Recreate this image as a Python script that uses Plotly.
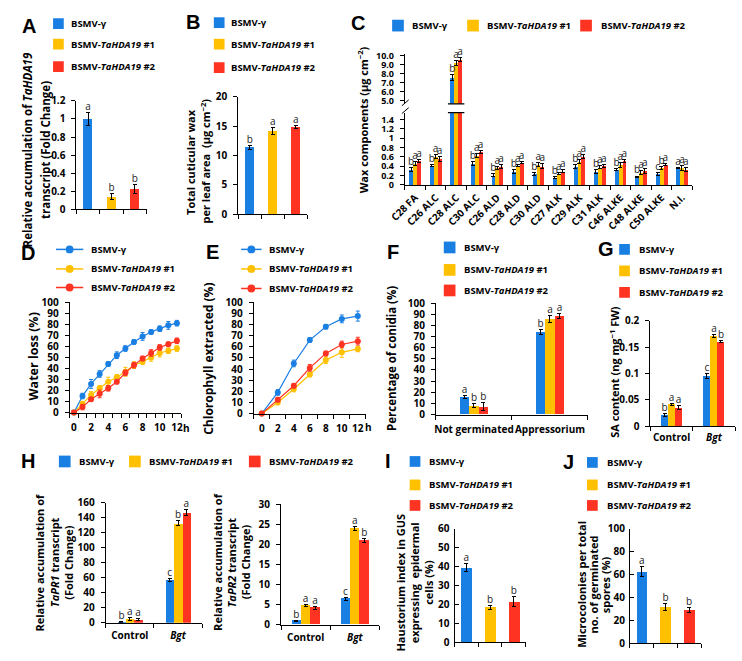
import plotly.graph_objects as go

W, H = 742, 661
HFONT = "Open Sans, sans-serif"
VFONT = "Open Sans, sans-serif"
LFONT = "Liberation Sans, Arial, sans-serif"
COLORS = ['#1a7fe3', '#ffc000', '#ff3322']
SERIES = ['BSMV-γ', 'BSMV-<i>TaHDA19</i> #1', 'BSMV-<i>TaHDA19</i> #2']

# ---------------- data ----------------
A_vals = [1.0, 0.14, 0.23]
A_err = [0.07, 0.03, 0.05]
A_sig = ['a', 'b', 'b']

B_vals = [11.4, 14.2, 14.9]
B_err = [0.3, 0.6, 0.25]
B_sig = ['b', 'a', 'a']

C_cats = ['C28 FA', 'C26 ALC', 'C28 ALC', 'C30 ALC', 'C26 ALD', 'C28 ALD', 'C30 ALD',
          'C27 ALK', 'C29 ALK', 'C31 ALK', 'C46 ALKE', 'C48 ALKE', 'C50 ALKE', 'N.I.']
C_blue = [0.33, 0.41, 7.6, 0.46, 0.21, 0.29, 0.24, 0.15, 0.39, 0.28, 0.33, 0.17, 0.24, 0.36]
C_yellow = [0.46, 0.61, 9.2, 0.63, 0.36, 0.41, 0.43, 0.24, 0.50, 0.38, 0.43, 0.26, 0.36, 0.36]
C_red = [0.51, 0.56, 9.6, 0.71, 0.39, 0.48, 0.40, 0.29, 0.61, 0.41, 0.51, 0.30, 0.44, 0.33]
C_blue_err = [0.04, 0.02, 0.3, 0.05, 0.03, 0.04, 0.03, 0.02, 0.04, 0.04, 0.02, 0.02, 0.03, 0.02]
C_yellow_err = [0.04, 0.04, 0.3, 0.04, 0.04, 0.02, 0.04, 0.02, 0.04, 0.03, 0.05, 0.04, 0.03, 0.05]
C_red_err = [0.03, 0.05, 0.2, 0.03, 0.04, 0.03, 0.05, 0.03, 0.05, 0.03, 0.03, 0.05, 0.02, 0.04]
C_blue_sig = ['b'] * 12 + ['c', 'a']
C_yellow_sig = ['a'] * 12 + ['b', 'a']
C_red_sig = ['a'] * 14

D_hours = [0, 1, 2, 3, 4, 5, 6, 7, 8, 9, 10, 11, 12]
D_blue = [0, 15, 26, 35, 44, 52, 58, 64, 69, 73, 76, 79, 81]
D_blue_err = [0, 2.5, 4, 3, 2, 3, 2.5, 2, 3.5, 2, 2.5, 3.5, 2.5]
D_yellow = [0, 8, 16, 22, 28, 32, 37, 43, 46, 50, 54, 56, 58]
D_yellow_err = [0, 2, 3, 2.5, 4, 2.5, 4, 3, 2.5, 3.5, 3.5, 2.5, 2.5]
D_red = [0, 5, 12, 17, 22, 28, 36, 43, 49, 54, 59, 62, 65]
D_red_err = [0, 2.5, 1.5, 3.5, 2.5, 2, 2.5, 2.5, 2, 3, 2.5, 2, 2.5]

E_hours = [0, 2, 4, 6, 8, 10, 12]
E_blue = [0, 19, 45, 66, 78, 85, 87.5]
E_blue_err = [0, 2.5, 3, 2, 2, 3.5, 4.5]
E_yellow = [0, 10, 22, 35, 48, 55, 58]
E_yellow_err = [0, 2, 2.5, 2, 3, 4.5, 2.5]
E_red = [0, 12.5, 25, 41, 54, 62, 65]
E_red_err = [0, 2, 2, 3, 2, 3, 3.5]

F_cats = ['Not germinated', 'Appressorium']
F_blue = [15.5, 74]
F_blue_err = [1.5, 2]
F_blue_sig = ['a', 'b']
F_yellow = [8, 86]
F_yellow_err = [2, 3]
F_yellow_sig = ['b', 'a']
F_red = [7, 88.5]
F_red_err = [3.5, 2.5]
F_red_sig = ['b', 'a']

G_cats = ['Control', '<i>Bgt</i>']
G_blue = [0.021, 0.095]
G_blue_err = [0.003, 0.005]
G_blue_sig = ['b', 'c']
G_yellow = [0.042, 0.171]
G_yellow_err = [0.002, 0.003]
G_yellow_sig = ['a', 'a']
G_red = [0.036, 0.160]
G_red_err = [0.004, 0.002]
G_red_sig = ['a', 'b']

H_cats = ['Control', '<i>Bgt</i>']
H1_blue = [1, 57]
H1_blue_err = [0.3, 2.5]
H1_blue_sig = ['b', 'c']
H1_yellow = [5, 132.5]
H1_yellow_err = [2, 3]
H1_yellow_sig = ['a', 'b']
H1_red = [4, 147]
H1_red_err = [1.5, 4]
H1_red_sig = ['a', 'a']
H2_blue = [1.0, 6.5]
H2_blue_err = [0.1, 0.4]
H2_blue_sig = ['b', 'c']
H2_yellow = [4.8, 24]
H2_yellow_err = [0.3, 0.6]
H2_yellow_sig = ['a', 'a']
H2_red = [4.2, 21]
H2_red_err = [0.4, 0.4]
H2_red_sig = ['a', 'b']

I_vals = [39.5, 18.5, 21.5]
I_err = [2, 1, 2.5]
I_sig = ['a', 'b', 'b']

J_vals = [62.5, 32, 29]
J_err = [4.5, 3, 2]
J_sig = ['a', 'b', 'b']

# ---------------- helpers ----------------
fig = go.Figure()
layout = {}
shapes = []
annotations = []

TICKFONT = dict(family=HFONT, size=10, color='black', weight='bold')
SIGFONT = dict(family=HFONT, size=10, color='#222222')


def xd(a, b):
    return [a / W, b / W]


def yd(top, bot):
    return [1 - bot / H, 1 - top / H]


def px(x):
    return x / W


def py(y):
    return 1 - y / H


def xr(n):
    return 'x' if n == 1 else f'x{n}'


def yr(n):
    return 'y' if n == 1 else f'y{n}'


def make_axes(n, xpx, ypx, xrange, yrange, yx=None, xx=None):
    xa = dict(domain=xd(*xpx), range=xrange, anchor=yr(n), showline=True, linecolor='black',
              linewidth=1, showgrid=False, zeroline=False, ticks='', tickfont=TICKFONT,
              fixedrange=True, ticklabelstandoff=2)
    ya = dict(domain=yd(*ypx), range=yrange, anchor=xr(n), showline=True, linecolor='black',
              linewidth=1, showgrid=False, zeroline=False, ticks='outside', ticklen=4,
              tickcolor='black', tickfont=TICKFONT, fixedrange=True, ticklabelstandoff=4)
    if xx:
        xa.update(xx)
    if yx:
        ya.update(yx)
    key = '' if n == 1 else str(n)
    layout['xaxis' + key] = xa
    layout['yaxis' + key] = ya


def cat_x(ncat, labels=None, angle=0, standoff=2, fs=10):
    d = dict(tickmode='array', tickvals=list(range(ncat)),
             ticktext=labels if labels else [''] * ncat, tickangle=angle,
             showticklabels=bool(labels), ticklabelstandoff=standoff,
             tickfont=dict(family=HFONT, size=fs, color='black', weight='bold'),
             minor=dict(ticks='outside', ticklen=4, tickcolor='black', tickmode='linear',
                        tick0=0.5, dtick=1, showgrid=False))
    return d


def err(arr):
    return dict(type='data', array=arr, color='black', thickness=1, width=2)


def bars_single(n, vals, errs, sig, width):
    xs = list(range(len(vals)))
    fig.add_trace(go.Bar(x=xs, y=vals, width=width, marker=dict(color=COLORS, line_width=0),
                         error_y=err(errs), xaxis=xr(n), yaxis=yr(n), showlegend=False))
    fig.add_trace(go.Scatter(x=xs, y=[v + e for v, e in zip(vals, errs)], mode='text', text=sig,
                             textposition='top center', textfont=SIGFONT, cliponaxis=False,
                             xaxis=xr(n), yaxis=yr(n), showlegend=False, hoverinfo='skip'))


def bars_grouped(n, vals3, errs3, sigs3, bw, keep=None):
    for k in range(3):
        vals, errs, sig = vals3[k], errs3[k], sigs3[k]
        xs = [i + (k - 1) * bw for i in range(len(vals))]
        fig.add_trace(go.Bar(x=xs, y=vals, width=bw, marker=dict(color=COLORS[k], line_width=0),
                             error_y=err(errs), xaxis=xr(n), yaxis=yr(n), showlegend=False))
        idx = [i for i in range(len(vals)) if (keep is None or keep(vals[i]))]
        fig.add_trace(go.Scatter(x=[xs[i] for i in idx], y=[vals[i] + errs[i] for i in idx],
                                 mode='text', text=[sig[i] for i in idx],
                                 textposition='top center', textfont=SIGFONT, cliponaxis=False,
                                 xaxis=xr(n), yaxis=yr(n), showlegend=False, hoverinfo='skip'))


def lines(n, hours, vals3, errs3):
    for k in range(3):
        fig.add_trace(go.Scatter(x=hours, y=vals3[k], mode='lines+markers',
                                 line=dict(color=COLORS[k], width=1.2),
                                 marker=dict(color=COLORS[k], size=6),
                                 error_y=dict(type='data', array=errs3[k], color=COLORS[k],
                                              thickness=1, width=2),
                                 cliponaxis=False, xaxis=xr(n), yaxis=yr(n), showlegend=False))


def legend_sq(x, yc, k, tx, size=11, fs=9.5):
    shapes.append(dict(type='rect', xref='paper', yref='paper', x0=px(x), x1=px(x + size),
                       y0=py(yc + size / 2), y1=py(yc - size / 2), fillcolor=COLORS[k],
                       line=dict(width=0)))
    annotations.append(dict(x=px(tx), y=py(yc), xref='paper', yref='paper', xanchor='left',
                            yanchor='middle', showarrow=False, text='<b>' + SERIES[k] + '</b>',
                            font=dict(family=HFONT, size=fs, color='black')))


def legend_line(x0, x1, yc, k, tx, fs=9.5):
    shapes.append(dict(type='line', xref='paper', yref='paper', x0=px(x0), x1=px(x1),
                       y0=py(yc), y1=py(yc), line=dict(color=COLORS[k], width=1.5)))
    cx = (x0 + x1) / 2
    r = 4
    shapes.append(dict(type='circle', xref='paper', yref='paper', x0=px(cx - r), x1=px(cx + r),
                       y0=py(yc + r), y1=py(yc - r), fillcolor=COLORS[k],
                       line=dict(color=COLORS[k], width=0)))
    annotations.append(dict(x=px(tx), y=py(yc), xref='paper', yref='paper', xanchor='left',
                            yanchor='middle', showarrow=False, text='<b>' + SERIES[k] + '</b>',
                            font=dict(family=HFONT, size=fs, color='black')))


def letter(ch, x, y):
    annotations.append(dict(x=px(x), y=py(y), xref='paper', yref='paper', xanchor='center',
                            yanchor='middle', showarrow=False, text='<b>' + ch + '</b>',
                            font=dict(family=LFONT, size=20, color='black')))


def ytitle(texts, xs, y, fs=11):
    for t, x in zip(texts, xs):
        annotations.append(dict(x=px(x), y=py(y), xref='paper', yref='paper', xanchor='center',
                                yanchor='middle', showarrow=False, textangle=-90,
                                text='<b>' + t + '</b>',
                                font=dict(family=VFONT, size=fs, color='black')))


def plain(text, x, y, fs=10):
    annotations.append(dict(x=px(x), y=py(y), xref='paper', yref='paper', xanchor='center',
                            yanchor='middle', showarrow=False, text='<b>' + text + '</b>',
                            font=dict(family=HFONT, size=fs, color='black')))


# ---------------- Panel A ----------------
make_axes(1, (61, 133), (95, 206), [-0.5, 2.5], [0, 1.2],
          yx=dict(dtick=0.2, tick0=0), xx=cat_x(3))
bars_single(1, A_vals, A_err, A_sig, 0.38)
letter('A', 12, 18)
for k, yc in enumerate([16, 37, 60]):
    legend_sq(37, yc, k, 53)
ytitle(['Relative accumulation of <i>TaHDA19</i>', 'transcript (Fold Change)'], [11, 29], 145, 11.5)

# ---------------- Panel B ----------------
make_axes(2, (227, 298), (91, 211), [-0.5, 2.5], [0, 20],
          yx=dict(dtick=5, tick0=0), xx=cat_x(3))
bars_single(2, B_vals, B_err, B_sig, 0.4)
letter('B', 181, 14)
for k, yc in enumerate([15, 37, 61]):
    legend_sq(202, yc, k, 218)
ytitle(['Total cuticular wax', 'per leaf area  (μg cm<sup>−2</sup>)'], [178, 194], 157, 11)

# ---------------- Panel C (broken axis) ----------------
C3 = [C_blue, C_yellow, C_red]
C3e = [C_blue_err, C_yellow_err, C_red_err]
C3s = [C_blue_sig, C_yellow_sig, C_red_sig]
make_axes(3, (398, 693), (47, 98), [-0.5, 13.5], [4.67, 10.22],
          yx=dict(tickmode='array', tickvals=[5, 6, 7, 8, 9, 10], tickformat='.1f',
                  tickfont=dict(family=HFONT, size=9, color='black', weight='bold')),
          xx=dict(visible=False, showline=False))
make_axes(4, (398, 693), (107, 181), [-0.5, 13.5], [0, 1.546],
          yx=dict(dtick=0.2, tick0=0,
                  tickfont=dict(family=HFONT, size=9, color='black', weight='bold')),
          xx=cat_x(14, C_cats, -45, 2, 10))
bars_grouped(3, C3, C3e, C3s, 0.19, keep=lambda v: v > 1.5)
bars_grouped(4, C3, C3e, C3s, 0.19, keep=lambda v: v <= 1.5)
for yy in (98, 107):
    shapes.append(dict(type='line', xref='x4', yref='paper', x0=1.6, x1=2.4, y0=py(yy), y1=py(yy),
                       line=dict(color='black', width=1.2)))
for yy in (100, 108):
    shapes.append(dict(type='line', xref='paper', yref='paper', x0=px(395), x1=px(402),
                       y0=py(yy), y1=py(yy - 6), line=dict(color='black', width=1)))
letter('C', 350, 15)
for k, (sx, tx) in enumerate([(385, 403), (462, 480), (578, 597)]):
    legend_sq(sx, 18, k, tx, size=12)
ytitle(['Wax components (μg cm<sup>−2</sup>)'], [356], 114, 11)

# ---------------- Panel D ----------------
make_axes(5, (54, 168.5), (301, 414), [-0.5, 12.5], [0, 100],
          yx=dict(dtick=10, tick0=0),
          xx=dict(tickmode='array', tickvals=[0, 2, 4, 6, 8, 10, 12],
                  ticktext=['0', '2', '4', '6', '8', '10', '12'], ticklabelstandoff=5,
                  minor=dict(ticks='outside', ticklen=4, tickcolor='black', tickmode='linear',
                             tick0=0.5, dtick=1, showgrid=False)))
lines(5, D_hours, [D_blue, D_yellow, D_red], [D_blue_err, D_yellow_err, D_red_err])
letter('D', 11, 251)
for k, yc in enumerate([247, 267, 286]):
    legend_line(40, 68, yc, k, 74)
ytitle(['Water loss (%)'], [17], 357, 12.5)
plain('h', 174, 430)

# ---------------- Panel E ----------------
make_axes(6, (243, 358), (301, 415), [-1, 13], [0, 100],
          yx=dict(dtick=10, tick0=0),
          xx=dict(tickmode='array', tickvals=[0, 2, 4, 6, 8, 10, 12],
                  ticktext=['0', '2', '4', '6', '8', '10', '12'], ticklabelstandoff=5,
                  minor=dict(ticks='outside', ticklen=4, tickcolor='black', tickmode='linear',
                             tick0=1, dtick=2, showgrid=False)))
lines(6, E_hours, [E_blue, E_yellow, E_red], [E_blue_err, E_yellow_err, E_red_err])
letter('E', 201, 250)
for k, yc in enumerate([247, 267, 287]):
    legend_line(230, 251, yc, k, 257)
ytitle(['Chlorophyll extracted (%)'], [197], 359, 12)
plain('h', 361, 429)

# ---------------- Panel F ----------------
make_axes(7, (430, 586), (302, 416), [-0.5, 1.5], [0, 100],
          yx=dict(dtick=10, tick0=0), xx=cat_x(2, F_cats, 0, 5))
bars_grouped(7, [F_blue, F_yellow, F_red], [F_blue_err, F_yellow_err, F_red_err],
             [F_blue_sig, F_yellow_sig, F_red_sig], 0.124)
letter('F', 386, 250)
for k, yc in enumerate([245, 268, 289]):
    legend_sq(438, yc, k, 457, size=12)
ytitle(['Percentage of conidia (%)'], [385], 359, 11.5)

# ---------------- Panel G ----------------
make_axes(8, (650, 737), (320, 428), [-0.5, 1.5], [0, 0.2],
          yx=dict(dtick=0.05, tick0=0), xx=cat_x(2, G_cats, 0, 2))
bars_grouped(8, [G_blue, G_yellow, G_red], [G_blue_err, G_yellow_err, G_red_err],
             [G_blue_sig, G_yellow_sig, G_red_sig], 0.166)
letter('G', 604, 247)
for k, yc in enumerate([247, 269, 291]):
    legend_sq(618, yc, k, 636)
ytitle(['SA content (ng mg<sup>−1</sup> FW)'], [613], 372, 11)

# ---------------- Panel H ----------------
make_axes(9, (91, 190), (506, 629), [-0.5, 1.5], [0, 160],
          yx=dict(dtick=20, tick0=0), xx=cat_x(2, H_cats, 0, 3))
bars_grouped(9, [H1_blue, H1_yellow, H1_red], [H1_blue_err, H1_yellow_err, H1_red_err],
             [H1_blue_sig, H1_yellow_sig, H1_red_sig], 0.172)
make_axes(10, (271, 372), (508, 631), [-0.5, 1.5], [0, 30],
          yx=dict(dtick=5, tick0=0), xx=cat_x(2, H_cats, 0, 3))
bars_grouped(10, [H2_blue, H2_yellow, H2_red], [H2_blue_err, H2_yellow_err, H2_red_err],
             [H2_blue_sig, H2_yellow_sig, H2_red_sig], 0.19)
letter('H', 11, 464)
for k, (sx, tx) in enumerate([(43, 62), (115, 133), (238, 257)]):
    legend_sq(sx, 464, k, tx, size=12)
ytitle(['Relative accumulation of', '<i>TaPR1</i> transcript', '(Fold Change)'],
       [23, 38, 52], 567, 11)
ytitle(['Relative accumulation of', '<i>TaPR2</i> transcript', '(Fold Change)'],
       [205, 220, 234], 567, 11)

# ---------------- Panel I ----------------
make_axes(11, (449, 522), (533, 649), [-0.5, 2.5], [0, 60],
          yx=dict(dtick=10, tick0=0, ticks='inside', ticklabelstandoff=2), xx=cat_x(3))
bars_single(11, I_vals, I_err, I_sig, 0.47)
letter('I', 381, 464)
for k, yc in enumerate([464, 488, 509]):
    legend_sq(403, yc, k, 421)
ytitle(['Haustorium index in GUS', 'expressing  epidermal', 'cells (%)'],
       [394, 408, 422], 588, 11)

# ---------------- Panel J ----------------
make_axes(12, (629, 702), (533, 650), [-0.5, 2.5], [0, 100],
          yx=dict(dtick=20, tick0=0, ticks='inside', ticklabelstandoff=2), xx=cat_x(3))
bars_single(12, J_vals, J_err, J_sig, 0.45)
letter('J', 566, 465)
for k, yc in enumerate([465, 488, 509]):
    legend_sq(585, yc, k, 603)
ytitle(['Microcolonies per total', 'no. of germinated', 'spores (%)'],
       [579, 592, 604], 590, 11)

layout.update(dict(width=W, height=H, margin=dict(l=0, r=0, t=0, b=0),
                   paper_bgcolor='white', plot_bgcolor='white', showlegend=False,
                   bargap=0, font=dict(family=HFONT, color='black'),
                   shapes=shapes, annotations=annotations))
fig.update_layout(**layout)
fig.write_html("out.html")
